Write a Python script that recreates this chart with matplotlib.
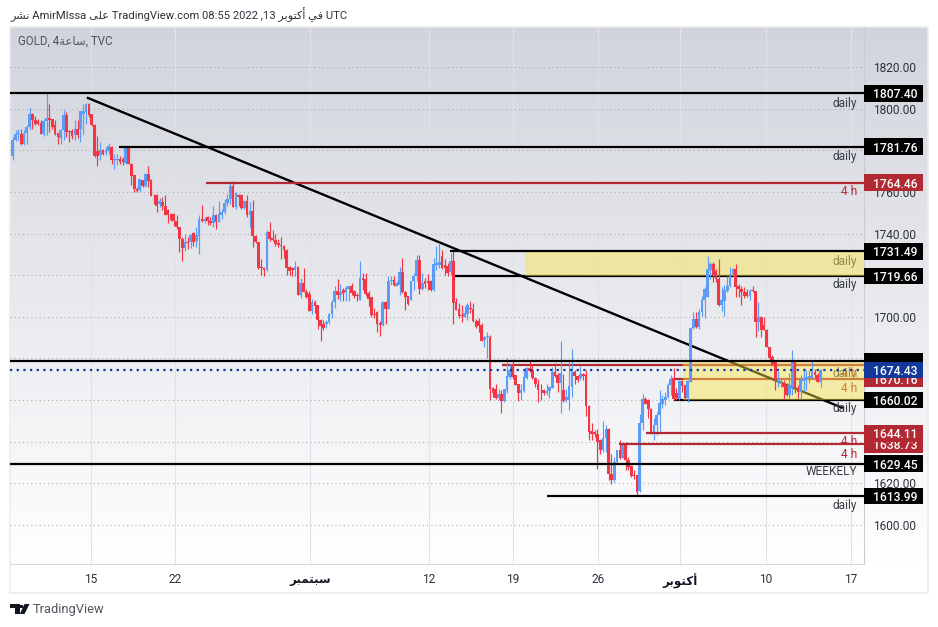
import matplotlib
matplotlib.use("Agg")
import matplotlib.pyplot as plt
import numpy as np
from matplotlib.patches import Polygon, Rectangle
from matplotlib.transforms import blended_transform_factory

# gold 4h candles
opens = [
    1777.3,1784.8,1787.7,1788,1783.2,1788.3,1791.2,1797.3,1794.4,1793.9,
    1793.1,1787.7,1794.1,1795.7,1794.9,1792,1788.3,1786.1,1789.6,1796.8,
    1789.3,1789.3,1787.2,1790.4,1790.4,1797.3,1798.4,1802.4,1797.3,1792,
    1779.7,1777.6,1780,1778.7,1779.5,1781.6,1775.5,1775.5,1776,1775.7,
    1773.9,1781.9,1773.6,1768,1761.6,1760.8,1765.6,1762.7,1768.8,1765.6,
    1758.2,1758.4,1754.1,1755.2,1753.1,1751.5,1749.6,1749.4,1745.9,1743.3,
    1737.4,1732.9,1736.1,1735.8,1740.1,1736.6,1739,1747,1746.2,1748.1,
    1746.2,1744.9,1749,1745.4,1749,1750.2,1754.7,1756.6,1763,1752.9,
    1758.7,1758.7,1752.1,1755.8,1749.1,1751,1738.7,1735.8,1723.8,1723.5,
    1722.5,1740.6,1737.7,1736.9,1735.6,1734.4,1734.2,1732.1,1723.8,1723.5,
    1722.5,1724.1,1710.4,1716.1,1712.1,1711,1703,1707.3,1705.7,1698.5,
    1696.6,1696.6,1697.4,1701.5,1706.9,1712.2,1710.6,1713,1711.7,1713.3,
    1714.6,1712.2,1710.6,1708.2,1718.6,1718.1,1711.4,1709.3,1701.5,1702.1,
    1697,1696.2,1707.2,1703.9,1717,1717.8,1714.9,1715.4,1721.3,1711.7,
    1709.8,1708.2,1717,1719.4,1727.4,1713.3,1717,1717.3,1717,1713,
    1725,1725,1729.3,1725,1724.2,1721.3,1726.9,1706.9,1703.7,1701,
    1699.9,1701.5,1704.2,1703.9,1698.1,1697.8,1696.2,1689,1690.1,1690.3,
    1665.8,1665.2,1661.2,1662.8,1659.6,1664.7,1671.1,1677.2,1671.9,1667.6,
    1663.4,1664.4,1670.8,1675.6,1674.3,1670.8,1667.9,1665,1665,1663.4,
    1664.2,1666,1673.5,1671.9,1668.2,1665,1660.2,1660.2,1666.3,1673.5,
    1671.4,1670.8,1672.7,1671.9,1657.2,1645.2,1644.7,1643.6,1640.7,1636.2,
    1641.8,1646.3,1624.4,1621.5,1630.3,1635.9,1632.4,1639.1,1631.1,1628.2,
    1623.9,1623.9,1616.4,1649,1660.7,1659.9,1655.9,1643.7,1648.1,1652.9,
    1658,1660,1661.3,1667.2,1670.7,1663.2,1660.5,1669.1,1667.2,1660.9,
    1668.8,1694.6,1699,1695,1702.5,1708.2,1709.4,1722.6,1725.3,1722.1,
    1718.1,1705.7,1707.8,1712.2,1714.6,1720.5,1723.2,1714.6,1713.3,1712.1,
    1712.1,1710.2,1712.9,1712.5,1697.4,1699.8,1696.2,1693.9,1685.5,1680.7,
    1678.7,1668,1668,1668,1667.2,1662.5,1666.4,1678.4,1665.6,1663.7,
    1669.1,1669.6,1670.4,1670.7,1673.6,1672.3,1668.8,
]
highs = [
    1786.4,1789.6,1790,1790.4,1789.6,1792,1800.5,1798,1796.3,1795.2,
    1794.7,1795.2,1808,1802.4,1795.2,1794.4,1788.3,1790.4,1799.2,1798.4,
    1789.9,1790.4,1794.4,1794.7,1798.9,1802.1,1802.7,1802.7,1797.3,1792.8,
    1786.7,1784,1780.8,1781.6,1783.5,1781.9,1778.4,1778.4,1777.1,1776.8,
    1781.9,1781.9,1773.9,1768,1762.4,1766.4,1765.9,1769.1,1772.3,1766.4,
    1759.2,1759.2,1757.3,1757.6,1758.4,1752,1750,1749.7,1749,1743.3,
    1738.5,1740,1738.2,1740,1740.6,1743,1749,1753.9,1747.8,1748.6,
    1747.8,1753.4,1749.4,1755.8,1751.8,1756.6,1759,1765,1765.4,1759.8,
    1759,1759,1756.1,1758.7,1755,1756.1,1739.5,1736.1,1727.8,1723.8,
    1741.7,1745.4,1741.7,1739.8,1737.4,1738.2,1734.7,1732.4,1724.6,1724.1,
    1726.6,1724.6,1718.7,1723.5,1713.4,1712.3,1708.6,1708,1705.9,1698.8,
    1698.5,1698.5,1701.7,1708.2,1714.9,1718.1,1715.7,1713.8,1714.6,1714.9,
    1716.2,1713,1711.4,1726.9,1721,1721,1712.2,1709.5,1704.2,1702.6,
    1698.1,1707.7,1707.7,1719.7,1719.7,1719.7,1717,1723.7,1728.2,1712.2,
    1710.1,1717.3,1721,1729.8,1729.8,1721,1718.6,1720.7,1717.5,1728.2,
    1734.1,1735.7,1732.2,1727.7,1725.8,1730.6,1732.2,1709,1706.6,1705.8,
    1705.3,1706.6,1707.4,1706.6,1698.9,1699.4,1697,1690.6,1692.7,1691.2,
    1666.3,1667.9,1665.5,1664.7,1665.2,1680.4,1677.2,1679.9,1672.2,1667.9,
    1667.9,1674.6,1675.9,1679.4,1677.2,1671.1,1670.3,1667.6,1665.2,1667.6,
    1666.6,1675.9,1677.8,1673,1688.4,1672.7,1665.5,1678.3,1684.7,1674.3,
    1671.9,1676.2,1673,1674.3,1657.5,1649,1645.5,1646.3,1641.5,1649.8,
    1647.9,1646.8,1634.3,1632.7,1636.2,1640.7,1639.4,1639.9,1632.7,1628.7,
    1626.3,1624.1,1653.2,1662.8,1661.5,1660.7,1656.2,1651.3,1654.5,1664.8,
    1662.5,1664,1668,1672,1675.2,1665.6,1669.6,1669.6,1667.5,1669.1,
    1694.9,1702.2,1702.5,1703.8,1710.2,1714.1,1729.2,1726.4,1726.1,1722.9,
    1727.6,1714.1,1715.2,1719.7,1723.7,1723.5,1725.3,1715.7,1714.6,1714.1,
    1713.3,1713.3,1714.9,1712.5,1707,1700.6,1699.8,1694.2,1685.5,1681.8,
    1679.1,1673.9,1670.4,1669.6,1668,1672.8,1683.9,1679.1,1667.2,1672.3,
    1675.5,1674.4,1674.4,1678.7,1674.9,1672.8,1674.9,
]
lows = [
    1775.2,1784.5,1784.8,1782.4,1782.4,1783.2,1790.4,1790,1792,1792,
    1787.7,1786.9,1787.2,1788.8,1790.4,1787.2,1782.9,1782.9,1784.8,1786.4,
    1784,1785.6,1785.1,1786.1,1784,1788,1792.8,1796,1791.5,1776.8,
    1772.3,1775.2,1777.6,1777.6,1778.4,1773.3,1771.2,1772.8,1773.6,1772.8,
    1773.6,1773.3,1763.2,1760,1760,1760,1762.4,1762.4,1762.4,1757.9,
    1754.4,1750.4,1752.8,1751.2,1748.8,1745.1,1746,1743.8,1742.2,1731,
    1727,1731.5,1732.6,1733,1734.2,1733.4,1730.2,1745.4,1744.9,1744.3,
    1744.3,1743.3,1742,1745.4,1747,1749.4,1753.4,1754.2,1752.6,1751.8,
    1753.4,1751.8,1751.8,1748.1,1743,1733.7,1735.3,1723,1720.3,1719.6,
    1722.2,1736.6,1736.6,1734.2,1733.4,1727.8,1728.3,1720.3,1720.3,1719.8,
    1719.8,1710.4,1708.9,1711.8,1708.9,1703,1701.4,1702,1694,1688.6,
    1693.7,1694.7,1696.6,1699.4,1704.2,1708.5,1707.7,1707.4,1707.4,1707.7,
    1710.6,1709,1707.4,1708.2,1713,1710.1,1705.3,1699.7,1699.4,1692.5,
    1690.9,1695.7,1696.7,1703.9,1715.4,1714.6,1714.6,1710.6,1711.4,1703.4,
    1705.8,1707.9,1713,1717,1711.1,1713,1713.8,1713,1712.2,1712.2,
    1722.6,1723.4,1723,1720.2,1719.7,1720.2,1696.7,1703.1,1699.4,1697.3,
    1699.9,1698.6,1701.8,1697.3,1694.6,1692.5,1688.2,1685.5,1680.2,1659.9,
    1661.5,1660.5,1660.2,1653.8,1659.3,1663.4,1670.3,1670.3,1667.1,1659.4,
    1660.2,1663.9,1670.3,1673.5,1670.3,1666.3,1659.1,1659.9,1662.3,1662.6,
    1661.2,1666,1671.1,1663.9,1653.8,1659.1,1659.1,1655.4,1661.5,1667.9,
    1668.7,1669.5,1669.5,1652.2,1641,1641,1642.3,1626.8,1634.3,1635.1,
    1635.1,1621.5,1619.6,1620.9,1629.5,1631.9,1632.4,1626.3,1626.6,1623.1,
    1622.1,1614.3,1615.9,1645.8,1658,1651.6,1643.6,1641,1643.4,1644.2,
    1656.1,1657.7,1660.9,1662.5,1659.9,1660.1,1659.9,1664,1659.9,1659.3,
    1668.5,1694.2,1694.6,1694.2,1700.3,1699.3,1709.4,1718.1,1716.5,1716.5,
    1705.4,1703,1700.3,1711.7,1714.1,1719.7,1709.4,1709.4,1705.7,1708.9,
    1709.4,1708.2,1711.7,1690.3,1693,1690.3,1693.5,1685.3,1679.1,1676.8,
    1664.8,1666.4,1666.4,1660.5,1662.1,1660.5,1662.5,1663.2,1660.9,1660.5,
    1664.4,1664.8,1668,1670.4,1670.7,1668.5,1666.4,
]
closes = [
    1784.8,1788,1788.3,1783.2,1788.5,1791.2,1797.3,1794.4,1792.8,1792.8,
    1787.7,1794.1,1795.7,1794.4,1791.2,1788,1786.4,1789.9,1796.8,1788.8,
    1788.8,1786.7,1790.4,1787.2,1798.9,1798.9,1802.4,1796.8,1792,1777.3,
    1777.3,1780,1778.4,1780,1781.9,1775.5,1775.7,1776,1774.2,1774.2,
    1781.6,1773.6,1767.5,1761.3,1760.3,1766.1,1762.7,1768.8,1765.1,1757.9,
    1757.9,1753.1,1755.5,1753.1,1748.8,1748.8,1746.7,1745.9,1743,1737.2,
    1732.9,1736.1,1735.3,1739.5,1736.1,1739.5,1747,1746.2,1747,1745.9,
    1744.9,1749,1745.4,1749.4,1750.4,1754.8,1756.6,1763,1752.9,1759.3,
    1757.4,1752.1,1755.8,1748.9,1751,1738.7,1735.8,1723.3,1723.3,1722.5,
    1740.6,1737.6,1736.9,1735,1734.4,1734,1732.1,1723.5,1722.2,1722.5,
    1724.1,1710.4,1716.1,1712.1,1709.4,1703,1707,1705.4,1698.5,1695.8,
    1694.7,1697.7,1701.4,1706.9,1712.5,1710.6,1711.7,1711.4,1713.8,1714.6,
    1711.4,1710.1,1709.8,1718.6,1717.5,1710.9,1708.5,1701,1701,1696.7,
    1696.2,1707.2,1703.9,1717.3,1717.5,1715.4,1716.2,1721.3,1711.7,1709.5,
    1706.3,1717.3,1719.7,1727.4,1713.3,1716.2,1715.9,1716.2,1713,1725.5,
    1725.8,1726.1,1723.4,1723.4,1721,1726.9,1706.6,1703.4,1700.5,1700.2,
    1701.8,1705.5,1703.7,1697.8,1694.9,1695.7,1688.5,1690.3,1690.6,1665.5,
    1663.4,1661.2,1662.8,1659.6,1665.2,1671.4,1674.3,1671.1,1667.1,1663.4,
    1664.7,1671.1,1675.6,1674,1670.6,1667.6,1665,1664.7,1663.4,1664.4,
    1666.3,1673.5,1671.4,1668.2,1673.2,1659.6,1661.5,1666.6,1673.5,1671.4,
    1669.8,1672.7,1671.4,1657.2,1644.7,1643.9,1643.6,1639.9,1636.2,1642,
    1646.3,1624.4,1621.8,1630.3,1635.9,1632.4,1639.1,1631.1,1627.9,1623.4,
    1623.4,1615.9,1649,1660.7,1658.3,1655.6,1643.9,1648.1,1652.9,1658.5,
    1660.5,1661.7,1667.5,1670.1,1660.5,1660.9,1669.1,1666.9,1660.9,1669.1,
    1694.6,1699,1695,1702.5,1708.2,1713.6,1723.2,1725.3,1719.7,1718.1,
    1705.7,1708.2,1713,1714.9,1720.5,1722.9,1714.1,1713.3,1711.7,1709.8,
    1709.8,1712.5,1712.4,1697.7,1699.8,1693.9,1693.9,1685.5,1680.3,1677.1,
    1669.6,1669.6,1669.1,1666.4,1662.5,1667.2,1678.4,1665.6,1663.7,1669.6,
    1670.7,1671.2,1671.7,1673.6,1672.3,1668.8,1674.4,
]

price_ticks = [1600, 1620, 1640, 1660, 1680, 1700, 1720, 1740, 1760, 1780, 1800, 1820]

# Arabic written in presentation forms, left to right, since matplotlib does no shaping
SEPT = "\ufeae\ufe92\ufee4\ufe98\ufe92\ufeb3"
OCT = "\ufeae\ufe91\ufeee\ufe98\ufedb\ufe83"
HOUR = "\ufe94\ufecb\ufe8e\ufeb3"
PUBLISHED = "\ufeae\ufeb8\ufee7"
ON = "\ufef0\ufee0\ufecb"
IN = "\ufef2\ufed3"

date_bars = [27.7, 57.5, 105.4, 147.4, 177.1, 207.2, 236.2, 266.7, 296.8]
date_labels = ["15", "22", SEPT, "12", "19", "26", OCT, "10", "17"]

black_levels = [1807.40, 1781.76, 1731.49, 1719.66, 1678.8, 1660.02, 1629.45, 1613.99]
black_starts = [-1, 37.6, 154.8, 156.2, -1, 234.2, -1, 189.1]
red_levels = [1764.46, 1676.7, 1670.16, 1644.11, 1638.73]
red_starts = [68.4, 173.2, 233.4, 224.2, 214.6]

trend_bars = [26.65, 293.9]
trend_prices = [1805.1, 1656.2]

box_bars = [181.4, 237.3]
box_lows = [1719.66, 1660.02]
box_highs = [1731.49, 1678.8]

current_price = 1674.43

note_texts = ["daily", "daily", "4 h", "daily", "daily", "daily", "4 h", "4 h",
              "daily", "4 h", "4 h", "WEEKELY", "daily"]
note_prices = [1802.7, 1777.2, 1760.4, 1726.8, 1715.3, 1673, 1672.6, 1665.8,
               1656.2, 1639.9, 1634.1, 1625.5, 1609.6]

# drawn in this order, later tags sit on top of earlier ones
tag_prices = [1807.40, 1781.76, 1764.46, 1731.49, 1719.66, 1676.7, 1678.8, 1670.16,
              1674.43, 1660.02, 1638.73, 1644.11, 1629.45, 1613.99]
tag_texts = ["1807.40", "1781.76", "1764.46", "1731.49", "1719.66", "", "", "1670.16",
             "1674.43", "1660.02", "1638.73", "1644.11", "1629.45", "1613.99"]

BLUE = "#5b9cf6"
RED = "#f23645"
DARKRED = "#b22833"
NAVY = "#12389b"
FONT = ["Roboto", "DejaVu Sans"]
W, H = 938, 627

plt.rcParams["font.family"] = FONT
plt.rcParams["font.size"] = 8.6

fig = plt.figure(figsize=(W / 100, H / 100), dpi=100, facecolor="white")

# panel border and gradient behind the plot and the price scale
fig.add_artist(Rectangle((9.5 / W, 1 - 592.5 / H), 918 / W, 566 / H, fc="none", ec="#eaecf1", lw=1.2))
back = fig.add_axes([10 / W, 1 - 564 / H, 917 / W, 537 / H], zorder=0)
back.imshow(np.linspace(0, 1, 256).reshape(-1, 1), aspect="auto",
            cmap=matplotlib.colors.LinearSegmentedColormap.from_list("bg", ["#d1d4dc", "#ffffff"]))
back.axis("off")

ax = fig.add_axes([10 / W, 1 - 564 / H, 854 / W, 537 / H], zorder=1)
ax.patch.set_alpha(0)
XMIN, XMAX = -0.96, 301.4
ax.set_xlim(XMIN, XMAX)
ax.set_ylim(1581.3, 1839.2)

ax.set_axisbelow(True)
ax.yaxis.tick_right()
ax.set_yticks(price_ticks)
ax.set_yticklabels(["%.2f" % p for p in price_ticks], va="center_baseline")
ax.set_xticks(date_bars)
ax.set_xticklabels(date_labels)
ax.tick_params(axis="both", length=0, labelcolor="#2e323c", labelsize=8.6)
ax.tick_params(axis="y", pad=6.8)
ax.tick_params(axis="x", pad=6.8)
for lab in ax.get_xticklabels():
    if lab.get_text() in (SEPT, OCT):
        lab.set_fontweight("bold")
        lab.set_color("#131722")
ax.grid(axis="y", color="#a9abb1", lw=0.75, ls=(0, (1, 3)))
ax.grid(axis="x", color="#e0e2e8", lw=0.75)
for side in ["top", "left"]:
    ax.spines[side].set_visible(False)
ax.spines["right"].set_color("#c9ccd4")
ax.spines["bottom"].set_color("#d6d8de")

# lines that pass under the yellow boxes come out olive or orange
under_box = [1719.66, 1660.02, 1676.7, 1670.16]
for price, start in zip(black_levels, black_starts):
    ax.hlines(price, max(start, XMIN), XMAX, color="black", lw=1.6, capstyle="butt",
              zorder=2 if price in under_box else 5)
for price, start in zip(red_levels, red_starts):
    ax.hlines(price, start, XMAX, color=DARKRED, lw=1.6, capstyle="butt",
              zorder=2 if price in under_box else 5)
ax.plot(trend_bars, trend_prices, color="black", lw=1.7, zorder=2)
ax.axhline(current_price, color=NAVY, lw=1.6, ls=(0, (1, 2.0)), zorder=5)

for x0, lo, hi in zip(box_bars, box_lows, box_highs):
    ax.fill_between([x0, XMAX], lo, hi, color="#fae646", alpha=0.45, lw=0, zorder=3)

# candles
bars = np.arange(len(closes))
o = np.array(opens)
c = np.array(closes)
up = c >= o
colors = np.where(up, BLUE, RED)
ax.vlines(bars, lows, highs, colors=colors, lw=0.85, zorder=4)
ax.bar(bars, np.abs(c - o), bottom=np.minimum(o, c), width=0.95, color=colors, lw=0, zorder=4)

for text, price in zip(note_texts, note_prices):
    if text == "4 h":
        col = DARKRED
    else:
        col = "#3a3d46"
    ax.text(298.9, price, text, color=col, ha="right", va="center", fontsize=8.6, zorder=2.5)

# value tags on the price scale
tr = blended_transform_factory(ax.transAxes, ax.transData)
for i, (price, text) in enumerate(zip(tag_prices, tag_texts)):
    if price in black_levels:
        bg = "black"
    elif price == current_price:
        bg = NAVY
    else:
        bg = DARKRED
    ax.add_patch(Rectangle((1.0, price - 4.0), 913 / 854 - 1, 8.0, transform=tr, fc=bg, ec="none",
                           clip_on=False, zorder=6 + i * 0.2))
    ax.text(885 / 854, price, text, transform=tr, color="white", ha="center", va="center_baseline",
            fontsize=8.7, fontweight="medium", clip_on=False, zorder=6.1 + i * 0.2)

fig.text(18 / W, 1 - 41 / H, "GOLD, 4" + HOUR + ", TVC", color="#50535e", fontsize=8.3, va="center")
fig.text(10 / W, 1 - 15 / H,
         PUBLISHED + " AmirMIssa " + ON + " TradingView.com 08:55 2022 ,13 " + OCT + " " + IN + " UTC",
         color="#2e323c", fontsize=8.1, va="center")

# TradingView mark
def px(points):
    return [(x / W, 1 - y / H) for x, y in points]

fig.add_artist(Polygon(px([(10, 604), (19.5, 604), (19.5, 614), (15, 614), (15, 608), (10, 608)]),
                       fc="#131722", ec="none"))
fig.add_artist(Polygon(px([(24.5, 604), (29.5, 604), (24.5, 614), (19.8, 614)]), fc="#131722", ec="none"))
fig.add_artist(Polygon(px([(20.2, 604.8), (22.8, 604.8), (22.8, 607.5), (20.2, 607.5)]),
                       fc="#131722", ec="none"))
fig.text(33 / W, 1 - 609 / H, "TradingView", color="#50535e", fontsize=9.3, va="center")

plt.savefig("out.png", dpi=100)
